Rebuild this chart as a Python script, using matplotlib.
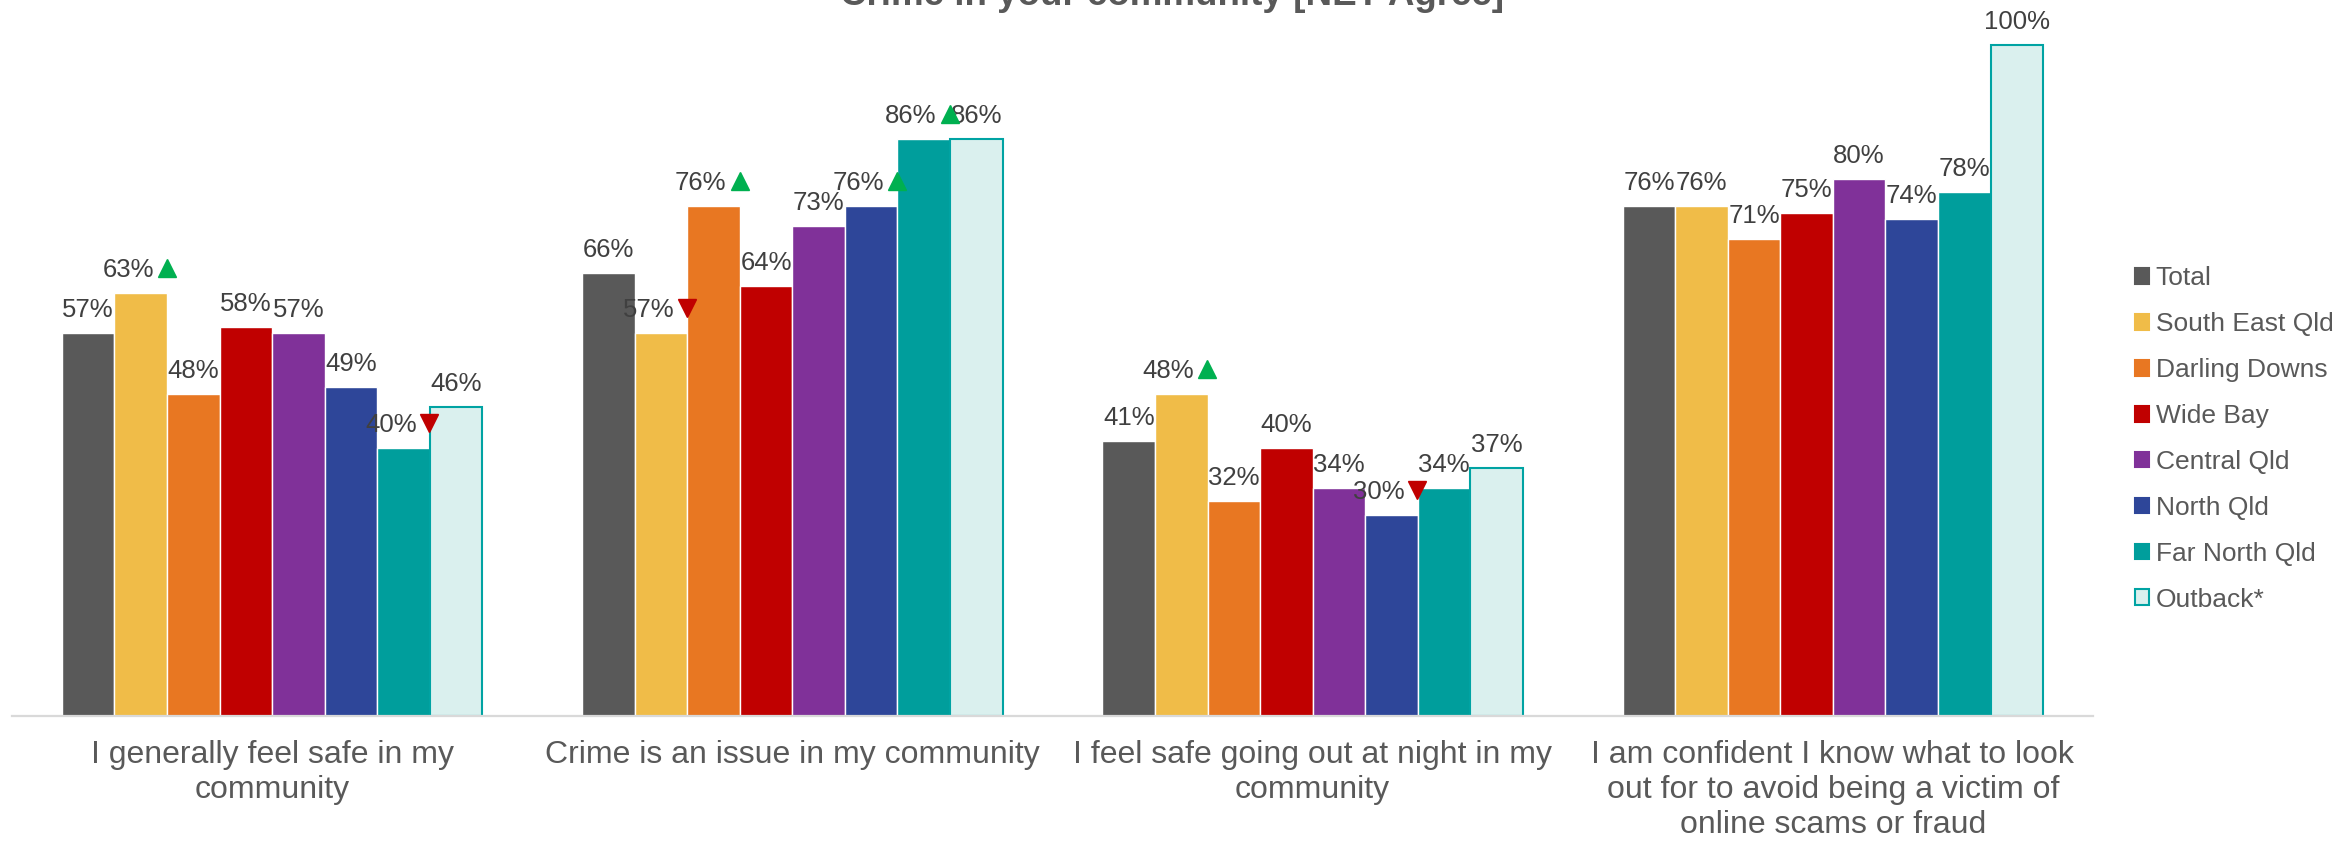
import matplotlib
matplotlib.use('Agg')
import matplotlib.pyplot as plt
from matplotlib.patches import Patch
from matplotlib.transforms import offset_copy

plt.rcParams['font.family'] = ['Liberation Sans', 'DejaVu Sans']

categories = [
    'I generally feel safe in my\ncommunity',
    'Crime is an issue in my community',
    'I feel safe going out at night in my\ncommunity',
    'I am confident I know what to look\nout for to avoid being a victim of\nonline scams or fraud',
]
series_names = ['Total', 'South East Qld', 'Darling Downs', 'Wide Bay',
                'Central Qld', 'North Qld', 'Far North Qld', 'Outback*']

# NET agree (%) per region, one value per statement
total = [57, 66, 41, 76]
south_east = [63, 57, 48, 76]
darling_downs = [48, 76, 32, 71]
wide_bay = [58, 64, 40, 75]
central = [57, 73, 34, 80]
north = [49, 76, 30, 74]
far_north = [40, 86, 34, 78]
outback = [46, 86, 37, 100]

# significant difference vs total: 1 = higher, -1 = lower
sig_total = [0, 0, 0, 0]
sig_south_east = [1, -1, 1, 0]
sig_darling_downs = [0, 1, 0, 0]
sig_wide_bay = [0, 0, 0, 0]
sig_central = [0, 0, 0, 0]
sig_north = [0, 1, -1, 0]
sig_far_north = [-1, 1, 0, 0]
sig_outback = [0, 0, 0, 0]

values = [total, south_east, darling_downs, wide_bay, central, north, far_north, outback]
sigs = [sig_total, sig_south_east, sig_darling_downs, sig_wide_bay,
        sig_central, sig_north, sig_far_north, sig_outback]
colors = ['#595959', '#F0BC48', '#E87722', '#C00000',
          '#803199', '#2E4699', '#009E9C', '#DAF0EE']
edges = ['white'] * 7 + ['#00A3A3']

W, H = 2351, 842
fig = plt.figure(figsize=(W / 100, H / 100), dpi=100)
ax = fig.add_axes([12 / W, (H - 716) / H, (2093 - 12) / W, (716 - 30) / H])

bar_w = 0.101
label_color = '#404040'
text_color = '#595959'

for j, (vals, sig) in enumerate(zip(values, sigs)):
    xs = [i + (j - 3.5) * bar_w for i in range(len(categories))]
    lw = 1.5 if j == 7 else 1.0
    ax.bar(xs, vals, width=bar_w, color=colors[j], edgecolor=edges[j],
           linewidth=lw, label=series_names[j], zorder=2)
    for x, v, s in zip(xs, vals, sig):
        if s == 0:
            ax.annotate(f'{v}%', xy=(x, v), xytext=(0, 11.5),
                        textcoords='offset points', ha='center', va='baseline',
                        fontsize=18.5, color=label_color, zorder=3)
        else:
            ax.annotate(f'{v}%', xy=(x, v), xytext=(9.4, 11.5),
                        textcoords='offset points', ha='right', va='baseline',
                        fontsize=18.5, color=label_color, zorder=3)
            tr = offset_copy(ax.transData, fig=fig, x=26, y=25, units='dots')
            ax.plot([x], [v], marker='^' if s > 0 else 'v', markersize=12.5,
                    color='#00B050' if s > 0 else '#C00000',
                    linestyle='none', transform=tr, zorder=4, clip_on=False)

ax.set_xlim(-0.5, len(categories) - 0.5)
ax.set_ylim(0, 102.2)
ax.set_xticks(range(len(categories)))
ax.set_xticklabels(categories, fontsize=23, color=text_color, linespacing=1.2)
ax.tick_params(axis='x', length=0, pad=17.5)
ax.set_yticks([])
for side in ['top', 'right', 'left']:
    ax.spines[side].set_visible(False)
ax.spines['bottom'].set_color('#D9D9D9')
ax.spines['bottom'].set_linewidth(1.6)

fig.text(1172 / W, 1 - 5 / H, 'Crime in your community [NET Agree]',
         ha='center', va='baseline', fontsize=26.5, fontweight='bold',
         color=text_color)

handles = [Patch(facecolor=c, edgecolor=(e if e != 'white' else c), linewidth=1.5)
           for c, e in zip(colors, edges)]
leg = fig.legend(handles, series_names, loc='center left',
                 bbox_to_anchor=(2135 / W, 1 - 439 / H), frameon=False,
                 fontsize=19, handlelength=0.54, handleheight=0.54,
                 handletextpad=0.25, labelspacing=0.83, borderpad=0,
                 borderaxespad=0)
for t in leg.get_texts():
    t.set_color(text_color)

fig.savefig('out.png', dpi=100)
